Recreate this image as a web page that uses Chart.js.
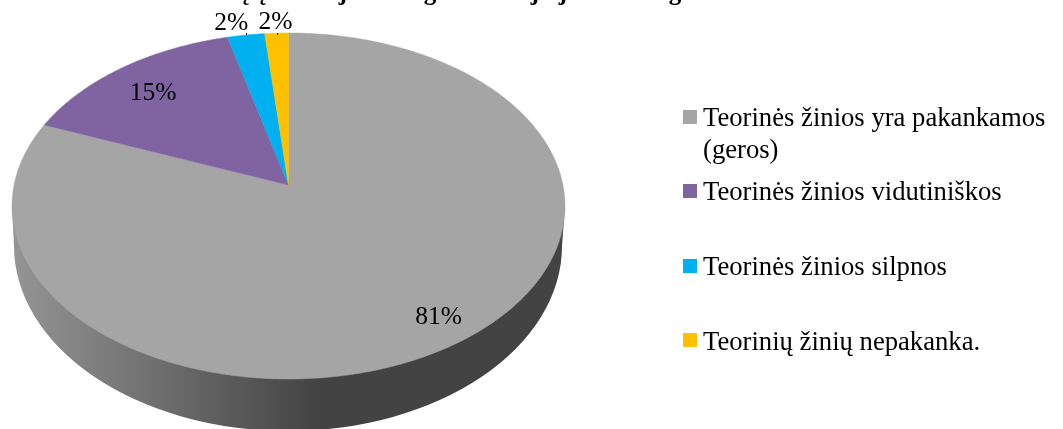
<!DOCTYPE html>
<html>
<head>
<meta charset="utf-8">
<style>html,body{margin:0;padding:0;background:#fff;overflow:hidden}canvas{display:block}</style>
<script src="https://cdn.jsdelivr.net/npm/chart.js@4"></script>
</head>
<body>
<canvas id="c" width="1063" height="429"></canvas>
<script>
const categories = ["Teorinės žinios yra pakankamos (geros)", "Teorinės žinios vidutiniškos", "Teorinės žinios silpnos", "Teorinių žinių nepakanka."];
const values = [81, 15, 2.45, 1.55];
const colors = ["#A5A5A5", "#8064A2", "#00B0F0", "#FFC000"];
const titleFragments = ["ų", "ų", "j", "g", "j", "j", "g"];

const SERIF = '"Liberation Serif", "Times New Roman", serif';
// Perspective of the tilted disc
const H = {cx: 288.5, a: 148, b: 185, c: -0.1214, k: 274.4};
function project(angle, r) {
  const u = r * Math.sin(angle), v = -r * Math.cos(angle);
  const d = H.c * v + 1;
  return {x: H.cx + H.k * u / d, y: (H.a * v + H.b) / d};
}
const labelPlace = [{r: .87, dx: 3, dy: -2}, {r: .8, dx: 0, dy: 4}, {r: 1.1, dx: -11, dy: 1}, {r: 1.1, dx: 0, dy: 3}];
const legendRows = [
  {box: 110, lines: [[categories[0].replace(" (geros)", ""), 126], ["(geros)", 158]]},
  {box: 184, lines: [[categories[1], 200]]},
  {box: 259, lines: [[categories[2], 275]]},
  {box: 333, lines: [[categories[3], 350]]}
];
const titleX = [243, 260, 343, 430, 535, 563, 675];

const discPlugin = {
  id: 'disc',
  beforeDatasetsDraw(chart) {
    const ctx = chart.ctx, meta = chart.getDatasetMeta(0);
    // side wall
    const g = ctx.createLinearGradient(16, 0, 320, 0);
    g.addColorStop(0, '#949494'); g.addColorStop(1, '#434343');
    ctx.save();
    ctx.fillStyle = g;
    ctx.beginPath();
    ctx.moveTo(12, 206);
    ctx.lineTo(14, 246);
    ctx.ellipse(288, 246, 274, 185, 0, Math.PI, 0, true);
    ctx.lineTo(565, 206);
    ctx.closePath();
    ctx.fill();
    // top face
    meta.data.forEach((arc, i) => {
      const s = arc.startAngle + Math.PI / 2, e = arc.endAngle + Math.PI / 2;
      const n = Math.max(4, Math.ceil((e - s) * 120));
      ctx.beginPath();
      const c = project(0, 0);
      ctx.moveTo(c.x, c.y);
      for (let j = 0; j <= n; j++) {
        const p = project(s + (e - s) * j / n, 1);
        ctx.lineTo(p.x, p.y);
      }
      ctx.closePath();
      ctx.fillStyle = colors[i];
      ctx.strokeStyle = colors[i];
      ctx.lineWidth = 0.5;
      ctx.fill();
      ctx.stroke();
    });
    ctx.restore();
    return false;
  },
  afterDraw(chart) {
    const ctx = chart.ctx, meta = chart.getDatasetMeta(0);
    ctx.save();
    ctx.fillStyle = '#000';
    // clipped heading above the chart
    ctx.font = 'bold 25px ' + SERIF;
    ctx.textAlign = 'center';
    ctx.textBaseline = 'alphabetic';
    titleFragments.forEach((t, i) => ctx.fillText(t, titleX[i], 0));
    // leader ticks
    ctx.strokeStyle = '#222'; ctx.lineWidth = 1;
    [246, 277].forEach(x => {
      ctx.beginPath(); ctx.moveTo(x + .5, 33); ctx.lineTo(x + .5, 35); ctx.stroke();
    });
    // value labels
    ctx.font = '25.5px ' + SERIF;
    ctx.textBaseline = 'middle';
    meta.data.forEach((arc, i) => {
      const mid = (arc.startAngle + arc.endAngle) / 2 + Math.PI / 2;
      const p = project(mid, labelPlace[i].r);
      ctx.fillText(Math.round(values[i]) + '%', p.x + labelPlace[i].dx, p.y + labelPlace[i].dy);
    });
    // legend
    ctx.textAlign = 'left';
    ctx.textBaseline = 'alphabetic';
    ctx.font = '26.67px ' + SERIF;
    legendRows.forEach((row, i) => {
      ctx.fillStyle = colors[i];
      ctx.fillRect(683, row.box, 14, 14);
      ctx.fillStyle = '#000';
      row.lines.forEach(([t, y]) => ctx.fillText(t, 703, y));
    });
    ctx.restore();
  }
};

new Chart(document.getElementById('c'), {
  type: 'pie',
  data: {labels: categories, datasets: [{data: values, backgroundColor: colors, borderWidth: 0}]},
  options: {
    responsive: false,
    animation: false,
    layout: {padding: {left: 12, right: 498, top: 33, bottom: 0}},
    plugins: {legend: {display: false}, tooltip: {enabled: false}}
  },
  plugins: [discPlugin]
});
</script>
</body>
</html>
